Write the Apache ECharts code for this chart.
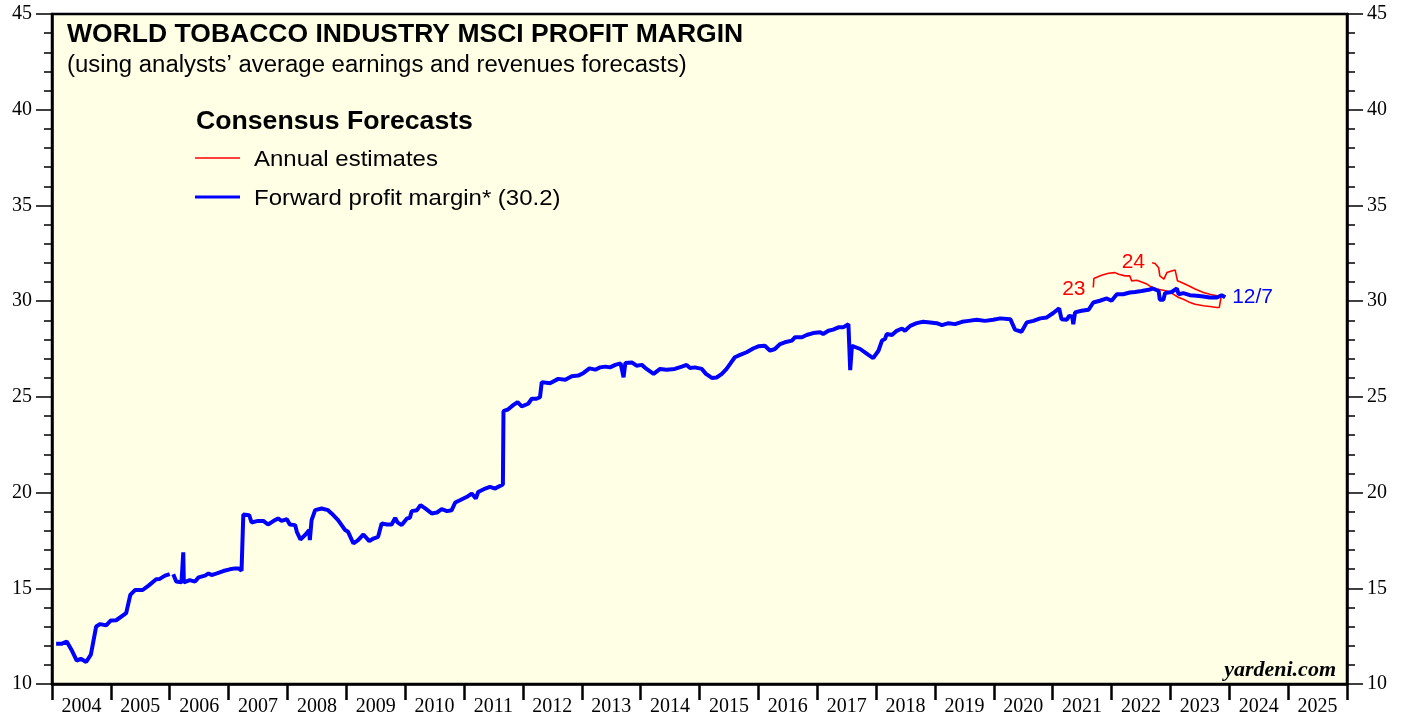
<!DOCTYPE html>
<html>
<head>
<meta charset="utf-8">
<title>World Tobacco Industry MSCI Profit Margin</title>
<script src="https://cdn.jsdelivr.net/npm/echarts@6/dist/echarts.min.js"></script>
<style>
    html, body { margin: 0; padding: 0; background: #fff; }
    #chart { width: 1407px; height: 717px; }
</style>
</head>
<body>
<div id="chart"></div>
<script>
    // year labels under the x axis (one per calendar year)
    const years = ['2004', '2005', '2006', '2007', '2008', '2009', '2010', '2011', '2012', '2013', '2014',
        '2015', '2016', '2017', '2018', '2019', '2020', '2021', '2022', '2023', '2024', '2025']

    // forward profit margin, [decimal year, percent]
    const forwardMargin = [
        [2004.07, 12.10], [2004.16, 12.10], [2004.25, 12.22], [2004.33, 11.79], [2004.42, 11.22],
        [2004.49, 11.32], [2004.58, 11.15], [2004.66, 11.53], [2004.75, 13.00], [2004.82, 13.13],
        [2004.92, 13.06], [2005.00, 13.32], [2005.09, 13.33], [2005.26, 13.70], [2005.33, 14.65],
        [2005.41, 14.91], [2005.54, 14.91], [2005.64, 15.14], [2005.77, 15.47], [2005.83, 15.49],
        [2005.92, 15.66], [2006.00, 15.74], [2006.03, null], [2006.06, 15.73], [2006.11, 15.35],
        [2006.20, 15.31], [2006.23, 16.88], [2006.24, 15.31], [2006.34, 15.43], [2006.43, 15.35],
        [2006.49, 15.57], [2006.60, 15.66], [2006.66, 15.78], [2006.71, 15.69], [2006.80, 15.78],
        [2006.91, 15.90], [2007.02, 15.99], [2007.11, 16.04], [2007.17, 16.04], [2007.22, 15.92],
        [2007.25, 18.85], [2007.35, 18.82], [2007.39, 18.44], [2007.50, 18.52], [2007.59, 18.52],
        [2007.67, 18.33], [2007.76, 18.51], [2007.84, 18.65], [2007.90, 18.52], [2007.99, 18.61],
        [2008.04, 18.33], [2008.13, 18.30], [2008.16, 17.95], [2008.22, 17.55], [2008.30, 17.78],
        [2008.37, 18.04], [2008.38, 17.52], [2008.41, 18.56], [2008.47, 19.08], [2008.58, 19.17],
        [2008.69, 19.08], [2008.75, 18.91], [2008.86, 18.56], [2008.98, 18.04], [2009.03, 17.95],
        [2009.12, 17.34], [2009.20, 17.52], [2009.29, 17.81], [2009.39, 17.46], [2009.46, 17.60],
        [2009.54, 17.69], [2009.60, 18.39], [2009.69, 18.33], [2009.77, 18.33], [2009.83, 18.68],
        [2009.87, 18.44], [2009.94, 18.30], [2010.03, 18.65], [2010.08, 18.68], [2010.11, 19.03],
        [2010.20, 19.08], [2010.26, 19.34], [2010.34, 19.17], [2010.45, 18.91], [2010.54, 18.96],
        [2010.62, 19.13], [2010.71, 19.03], [2010.79, 19.08], [2010.85, 19.48], [2010.93, 19.60],
        [2011.05, 19.78], [2011.13, 19.95], [2011.20, 19.69], [2011.24, 20.03], [2011.36, 20.21],
        [2011.44, 20.30], [2011.53, 20.21], [2011.58, 20.30], [2011.66, 20.42], [2011.67, 24.25],
        [2011.75, 24.35], [2011.84, 24.58], [2011.91, 24.72], [2011.98, 24.50], [2012.09, 24.64],
        [2012.15, 24.90], [2012.18, 24.98], [2012.23, 24.90], [2012.29, 24.98], [2012.32, 25.77],
        [2012.46, 25.71], [2012.60, 25.94], [2012.72, 25.89], [2012.83, 26.08], [2012.94, 26.11],
        [2013.03, 26.25], [2013.13, 26.49], [2013.23, 26.42], [2013.31, 26.54], [2013.40, 26.58],
        [2013.48, 26.54], [2013.57, 26.67], [2013.66, 26.75], [2013.68, 26.75], [2013.71, 26.02],
        [2013.72, 26.02], [2013.74, 26.77], [2013.85, 26.80], [2013.93, 26.63], [2014.02, 26.67],
        [2014.10, 26.46], [2014.22, 26.20], [2014.33, 26.46], [2014.44, 26.42], [2014.58, 26.46],
        [2014.70, 26.58], [2014.78, 26.67], [2014.84, 26.51], [2014.92, 26.54], [2015.04, 26.46],
        [2015.11, 26.20], [2015.21, 25.99], [2015.29, 26.01], [2015.38, 26.20], [2015.46, 26.46],
        [2015.52, 26.72], [2015.60, 27.07], [2015.69, 27.19], [2015.80, 27.33], [2015.92, 27.54],
        [2016.00, 27.64], [2016.11, 27.67], [2016.20, 27.41], [2016.28, 27.50], [2016.37, 27.76],
        [2016.45, 27.85], [2016.57, 27.94], [2016.62, 28.11], [2016.74, 28.11], [2016.82, 28.23],
        [2016.93, 28.33], [2017.05, 28.37], [2017.10, 28.28], [2017.19, 28.45], [2017.27, 28.51],
        [2017.36, 28.63], [2017.44, 28.63], [2017.53, 28.80], [2017.55, 28.80], [2017.56, 26.40],
        [2017.59, 27.67], [2017.73, 27.50], [2017.87, 27.19], [2017.95, 27.02], [2018.04, 27.41],
        [2018.10, 27.94], [2018.15, 28.02], [2018.18, 28.28], [2018.27, 28.23], [2018.35, 28.45],
        [2018.44, 28.57], [2018.49, 28.45], [2018.58, 28.71], [2018.69, 28.85], [2018.80, 28.92],
        [2018.92, 28.89], [2019.03, 28.85], [2019.12, 28.75], [2019.23, 28.85], [2019.34, 28.80],
        [2019.46, 28.92], [2019.57, 28.97], [2019.71, 29.03], [2019.85, 28.97], [2019.99, 29.03],
        [2020.11, 29.10], [2020.28, 29.06], [2020.36, 28.51], [2020.47, 28.40], [2020.56, 28.89],
        [2020.67, 28.97], [2020.79, 29.10], [2020.90, 29.15], [2021.01, 29.38], [2021.11, 29.62],
        [2021.15, 29.06], [2021.24, 29.03], [2021.28, 29.23], [2021.33, 29.20], [2021.35, 28.80],
        [2021.38, 29.41], [2021.49, 29.50], [2021.61, 29.55], [2021.69, 29.93], [2021.80, 30.02],
        [2021.92, 30.14], [2022.00, 30.02], [2022.09, 30.36], [2022.20, 30.36], [2022.31, 30.45],
        [2022.40, 30.48], [2022.51, 30.53], [2022.63, 30.59], [2022.70, 30.66], [2022.80, 30.53],
        [2022.82, 30.07], [2022.88, 30.07], [2022.91, 30.42], [2023.02, 30.48], [2023.11, 30.66],
        [2023.14, 30.36], [2023.22, 30.42], [2023.33, 30.31], [2023.45, 30.28], [2023.56, 30.24],
        [2023.67, 30.19], [2023.79, 30.19], [2023.87, 30.31], [2023.93, 30.20]
    ]

    // annual consensus estimates for 2023 and 2024
    const estimate2023 = [
        [2021.69, 30.71], [2021.70, 31.18], [2021.83, 31.35], [2021.95, 31.46], [2022.06, 31.49],
        [2022.12, 31.41], [2022.23, 31.32], [2022.31, 31.32], [2022.34, 31.06], [2022.43, 31.09],
        [2022.51, 31.00], [2022.60, 30.89], [2022.66, 30.77], [2022.77, 30.63], [2022.94, 30.53],
        [2023.02, 30.42], [2023.14, 30.19], [2023.22, 30.10], [2023.31, 29.96], [2023.42, 29.84],
        [2023.56, 29.76], [2023.67, 29.72], [2023.79, 29.67], [2023.83, 29.67], [2023.86, 30.19]
    ]
    const estimate2024 = [
        [2022.69, 32.01], [2022.74, 31.97], [2022.80, 31.75], [2022.82, 31.32], [2022.89, 31.15],
        [2022.94, 31.49], [2023.02, 31.58], [2023.08, 31.63], [2023.11, 31.63], [2023.12, 31.06],
        [2023.19, 30.97], [2023.31, 30.80], [2023.42, 30.63], [2023.56, 30.45], [2023.67, 30.36],
        [2023.79, 30.28], [2023.87, 30.23], [2023.93, 30.20]
    ]

    const latestMargin = '30.2'
    const latestDate = '12/7'

    const SANS = '"Liberation Sans", Arial, sans-serif'
    const SERIF = '"Liberation Serif", "Times New Roman", serif'
    const BLUE = '#0000ff'
    const RED = '#ff0000'

    // y axis shared by both sides
    function marginAxis(position) {
        return {
            type: 'value',
            position: position,
            min: 10,
            max: 45,
            interval: 5,
            splitLine: {show: false},
            axisLine: {show: true, lineStyle: {color: '#000', width: 2.5}},
            axisTick: {show: true, inside: false, length: 16, lineStyle: {color: '#000', width: 1.5}},
            minorTick: {show: true, splitNumber: 5, length: 8, lineStyle: {color: '#000', width: 1.5}},
            axisLabel: {color: '#000', fontFamily: SERIF, fontSize: 20, margin: 20}
        }
    }

    // small text tag pinned to a data point
    function tag(text, coord, color) {
        return {
            symbol: 'rect',
            symbolSize: 1,
            itemStyle: {color: 'rgba(0,0,0,0)'},
            label: {show: true, position: 'inside', formatter: text, color: color, fontFamily: SANS, fontSize: 21},
            data: [{coord: coord}]
        }
    }

    // plain text in the plot area, stretched a little sideways like the original
    function note(text, x, y, font, sx) {
        return {
            type: 'text', x: x, y: y, scaleX: sx || 1,
            style: {text: text, fill: '#000', font: font, align: 'left', verticalAlign: 'middle'}
        }
    }

    const chart = echarts.init(document.getElementById('chart'))
    chart.setOption({
        animation: false,
        backgroundColor: '#fff',
        grid: {
            left: 52, right: 60, top: 14, bottom: 31,
            show: true,
            backgroundColor: '#ffffe6',
            borderColor: '#000',
            borderWidth: 2.5
        },
        xAxis: [
            {
                type: 'value',
                min: 2004,
                max: 2026,
                show: false
            },
            {
                type: 'category',
                position: 'bottom',
                data: years,
                boundaryGap: true,
                axisLine: {show: true, lineStyle: {color: '#000', width: 2.5}},
                axisTick: {show: true, inside: false, length: 16, lineStyle: {color: '#000', width: 2.5}},
                axisLabel: {color: '#000', fontFamily: SERIF, fontSize: 20, margin: 13, interval: 0},
                splitLine: {show: false}
            }
        ],
        yAxis: [marginAxis('left'), marginAxis('right')],
        series: [
            {
                name: 'Annual estimates 2023',
                type: 'line',
                xAxisIndex: 0,
                data: estimate2023,
                showSymbol: false,
                lineStyle: {color: RED, width: 1.6},
                markPoint: tag('23', [2021.36, 30.63], RED)
            },
            {
                name: 'Annual estimates 2024',
                type: 'line',
                xAxisIndex: 0,
                data: estimate2024,
                showSymbol: false,
                lineStyle: {color: RED, width: 1.6},
                markPoint: tag('24', [2022.37, 32.03], RED)
            },
            {
                name: 'Forward profit margin',
                type: 'line',
                xAxisIndex: 0,
                data: forwardMargin,
                showSymbol: false,
                connectNulls: false,
                lineStyle: {color: BLUE, width: 4},
                endLabel: {
                    show: true,
                    formatter: latestDate,
                    color: BLUE,
                    fontFamily: SANS,
                    fontSize: 21,
                    distance: 7
                }
            }
        ],
        graphic: [
            note('WORLD TOBACCO INDUSTRY MSCI PROFIT MARGIN', 67, 35, 'bold 26px ' + SANS, 1.02),
            note('(using analysts’ average earnings and revenues forecasts)', 67, 66, '23px ' + SANS, 1.04),
            note('Consensus Forecasts', 196, 122, 'bold 25.5px ' + SANS, 1.045),
            {
                type: 'line', shape: {x1: 195, y1: 158, x2: 240, y2: 158},
                style: {stroke: RED, lineWidth: 1.6}
            },
            note('Annual estimates', 254, 160, '22px ' + SANS, 1.09),
            {
                type: 'line', shape: {x1: 195, y1: 197, x2: 240, y2: 197},
                style: {stroke: BLUE, lineWidth: 3}
            },
            note('Forward profit margin* (' + latestMargin + ')', 254, 199, '22px ' + SANS, 1.09),
            {
                type: 'text', x: 1336, y: 670,
                style: {text: 'yardeni.com', fill: '#000', font: 'italic bold 22px ' + SERIF,
                    align: 'right', verticalAlign: 'middle'}
            }
        ]
    })
</script>
</body>
</html>
